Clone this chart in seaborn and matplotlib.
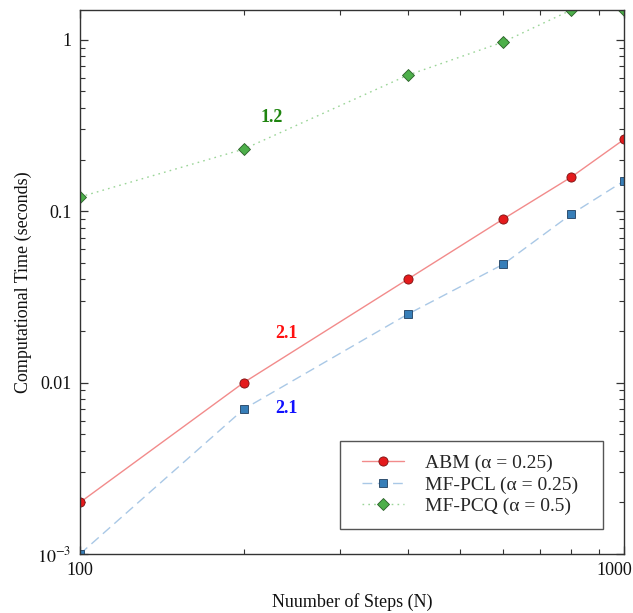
import matplotlib
matplotlib.use("Agg")
import matplotlib.pyplot as plt
from matplotlib.patches import Rectangle
from matplotlib.ticker import FixedLocator, LogLocator, NullFormatter
from matplotlib.transforms import ScaledTranslation, IdentityTransform
import seaborn as sns

# Number of steps and measured run times (seconds)
steps = [100, 200, 400, 600, 800, 1000]
abm_time = [0.002, 0.010, 0.040, 0.090, 0.158, 0.262]
pcl_time = [0.001, 0.007, 0.025, 0.049, 0.096, 0.150]
pcq_time = [0.121, 0.230, 0.620, 0.970, 1.49, 1.49]

labels = ["ABM (\u03b1 = 0.25)", "MF-PCL (\u03b1 = 0.25)", "MF-PCQ (\u03b1 = 0.5)"]
slope_labels = ["1.2", "2.1", "2.1"]

sns.set_theme(style="ticks")
plt.rcParams["font.family"] = ["Liberation Serif", "DejaVu Serif"]
plt.rcParams["mathtext.fontset"] = "stix"

DPI = 100
fig = plt.figure(figsize=(6.33, 6.13), dpi=DPI)
ax = fig.add_axes([80 / 633, 59 / 613, 544 / 633, 544 / 613])

series = [
    (abm_time, labels[0], "o", "-", "#f28b8b", "#e41a1c", "#7a1010", 6.6),
    (pcl_time, labels[1], "s", (0, (7, 4)), "#a9c8e6", "#377eb8", "#1f3f5f", 6.4),
    (pcq_time, labels[2], "D", (0, (1.2, 3)), "#9bd598", "#4daf4a", "#2a5e28", 6.6),
]
for y, lab, mk, ls, lc, fc, ec, ms in series:
    sns.lineplot(x=steps, y=y, ax=ax, color=lc, linestyle=ls, linewidth=1.0,
                 marker=mk, markersize=ms, markerfacecolor=fc,
                 markeredgecolor=ec, markeredgewidth=0.6, label=lab)

ax.set_xscale("log")
ax.set_yscale("log")
ax.set_xlim(100, 1000)
ax.set_ylim(1e-3, 1.49)

ax.xaxis.set_major_locator(FixedLocator([100, 1000]))
ax.set_xticklabels(["100", "1000"])
ax.xaxis.set_minor_locator(LogLocator(base=10, subs=range(2, 10)))
ax.xaxis.set_minor_formatter(NullFormatter())
ax.yaxis.set_major_locator(FixedLocator([1e-3, 1e-2, 1e-1, 1]))
ax.set_yticklabels([r"$10^{-3}$", "0.01", "0.1", "1"])
ax.yaxis.set_minor_locator(LogLocator(base=10, subs=range(2, 10)))
ax.yaxis.set_minor_formatter(NullFormatter())

ax.tick_params(which="both", direction="in", top=True, right=True,
               color="#333333", labelsize=13, labelcolor="#111111")
ax.tick_params(which="major", length=6, width=0.9, pad=6)
ax.tick_params(which="minor", length=3.5, width=0.8)
for sp in ax.spines.values():
    sp.set_color("#333333")
    sp.set_linewidth(1.0)

# keep the right-most x label inside the figure
last = ax.get_xticklabels()[-1]
last.set_horizontalalignment("right")
last.set_transform(last.get_transform() + ScaledTranslation(8 / DPI, 0, fig.dpi_scale_trans))

ax.set_xlabel("Nuumber of Steps (N)", fontsize=13, color="#111111", labelpad=10)
ax.set_ylabel("Computational Time (seconds)", fontsize=13, color="#111111", labelpad=4)

# Slope annotations
ax.text(225, 0.353, slope_labels[0], color="#1f8510", fontsize=13,
        fontweight="bold", ha="center", va="center")
ax.text(240, 0.0192, slope_labels[1], color="#ff1010", fontsize=13,
        fontweight="bold", ha="center", va="center")
ax.text(240, 0.0071, slope_labels[2], color="#1010ff", fontsize=13,
        fontweight="bold", ha="center", va="center")

leg = ax.legend(loc="lower right", bbox_to_anchor=(0.941, 0.046), fontsize=14,
                frameon=False, handlelength=2.16, handletextpad=1.08,
                borderpad=0.7, labelspacing=0.2, borderaxespad=0)

# square legend frame with wider side margins
fig.canvas.draw()
bb = leg.get_window_extent()
frame = Rectangle((bb.x0 - 9, bb.y0), bb.width + 20, bb.height,
                  transform=IdentityTransform(), facecolor="white",
                  edgecolor="#555555", linewidth=1.0, zorder=4)
fig.add_artist(frame)
leg.set_zorder(5)
leg.remove()
fig.add_artist(leg)

fig.savefig("out.png", dpi=DPI)
